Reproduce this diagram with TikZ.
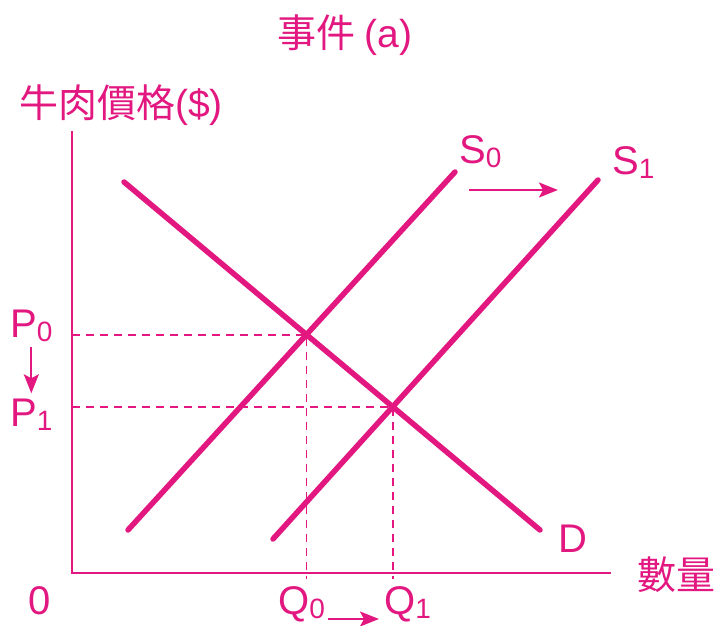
\documentclass[tikz,border=0pt]{standalone}
\usepackage{fontspec}
\setmainfont{Liberation Sans}
\newfontfamily\cjk{Noto Sans CJK TC}
\usepackage{tikz}
\usetikzlibrary{arrows.meta}
\definecolor{beef}{RGB}{226,24,128}
\tikzset{
 curve/.style={line width=5.5pt, draw=beef, line cap=round},
 axis/.style={line width=2pt, draw=beef},
 guide/.style={line width=1.8pt, draw=beef, dash pattern=on 8pt off 6pt},
 shiftarrow/.style={line width=2pt, draw=beef, -{Stealth[length=19pt,width=15pt,inset=4pt]}}
}
\tikzstyle{lbl}=[text=beef, inner sep=0pt, font=\fontsize{40}{44}\selectfont]
\tikzstyle{cjklbl}=[text=beef, inner sep=0pt, font=\cjk\fontsize{39}{44}\selectfont]
\newcommand{\subs}[2]{#1\raisebox{-.1em}{\fontsize{28}{30}\selectfont #2}}

\begin{document}
\begin{tikzpicture}[x=1pt, y=-1pt]
 \useasboundingbox (0,0) rectangle (721,626);
%
 \coordinate (origin) at (72,573);
 \coordinate (ytop) at (72,131);
 \coordinate (xend) at (611,573);
 \draw[axis] (ytop) -- (origin) -- (xend);
%
 \coordinate (s0lo) at (128,530);
 \coordinate (s0hi) at (455,172);
 \coordinate (s1lo) at (273,539);
 \coordinate (s1hi) at (598,180);
 \coordinate (dhi) at (124,182);
 \coordinate (dlo) at (540,530);
 \coordinate (e0) at (306.5,334.6);
 \coordinate (e1) at (392.7,406.8);
%
 \draw[guide] (e0 -| origin) -- (e0) -- ([yshift=-6pt]e0 |- origin);
 \draw[guide] (e1 -| origin) -- (e1) -- ([yshift=-6pt]e1 |- origin);
%
 \draw[curve] (s0lo) -- (s0hi);
 \draw[curve] (s1lo) -- (s1hi);
 \draw[curve] (dhi) -- (dlo);
%
 \node[cjklbl] (title) at (345,35) {事件 {\rmfamily (a)}};
 \node[cjklbl] (ylbl) at (121,105) {牛肉價格{\rmfamily(\$)}};
 \node[cjklbl] (xlbl) at (676,575) {數量};
 \node[lbl, anchor=base west] (zero) at (28,614) {0};
 \node[lbl, anchor=base west] (p0) at (10,337) {\subs{P}{0}};
 \node[lbl, anchor=base west] (p1) at (10,426) {\subs{P}{1}};
 \node[lbl, anchor=base west] (q0) at (278,614) {\subs{Q}{0}};
 \node[lbl, anchor=base west] (q1) at (384,614) {\subs{Q}{1}};
 \node[lbl, anchor=base west] (s0) at (459,163) {\subs{S}{0}};
 \node[lbl, anchor=base west] (s1) at (612,175) {\subs{S}{1}};
 \node[lbl, anchor=base west] (dd) at (558,552) {D};
%
 \coordinate (sh0) at (469,190);
 \coordinate (sh1) at (558,190);
 \draw[shiftarrow] ([yshift=-6pt]p0.south) -- ([yshift=5pt]p1.north);
 \draw[shiftarrow] ([yshift=-5pt,xshift=3pt]q0.base east) -- ([yshift=-5pt,xshift=-5pt]q1.base west);
 \draw[shiftarrow] (sh0) -- (sh1);
\end{tikzpicture}
\end{document}
